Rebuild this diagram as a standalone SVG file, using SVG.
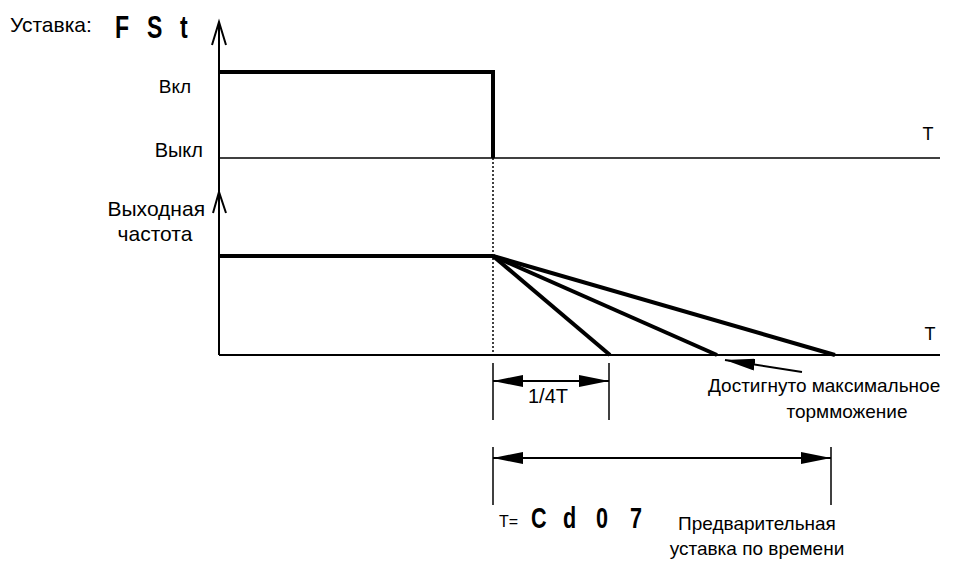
<svg xmlns="http://www.w3.org/2000/svg" width="977" height="562" viewBox="0 0 977 562">
<style>
text{font-family:"Liberation Sans",Arial,sans-serif;font-size:19px;fill:#000}
.big{font-size:21px}
.seg{font-family:"Liberation Sans",Arial,sans-serif;font-weight:bold;font-size:32px}
.thin{stroke:#000;stroke-width:1.5;fill:none}
.ax{stroke:#000;stroke-width:2;fill:none}
.thick{stroke:#000;stroke-width:4;fill:none}
.dim{stroke:#000;stroke-width:2;fill:none;marker-start:url(#ah);marker-end:url(#ah)}
</style>
<defs>
<marker id="ah" markerUnits="userSpaceOnUse" markerWidth="30" markerHeight="12" refX="30" refY="6" orient="auto-start-reverse" viewBox="0 0 30 12">
<path d="M0,0 L30,6 L0,12 z" fill="#000"/>
</marker>
</defs>
<rect width="977" height="562" fill="#fff"/>
<g id="axes">
<line class="ax" x1="219" y1="22" x2="219" y2="355"/>
<polyline class="ax" points="212,45 219,22 226,45"/>
<polyline class="ax" points="213,213 219,192 226,213"/>
<line class="thin" x1="219" y1="158" x2="940" y2="158"/>
<line class="ax" x1="219" y1="355" x2="940" y2="355"/>
<line x1="493" y1="158" x2="493" y2="355" stroke="#000" stroke-width="1.5" stroke-dasharray="2,2"/>
</g>
<g id="signal">
<path class="thick" d="M219,72 H493 V158"/>
</g>
<g id="frequency">
<path class="thick" d="M219,256 H493"/>
<line class="thick" x1="493" y1="256" x2="610" y2="355"/>
<line class="thick" x1="493" y1="256" x2="717" y2="355"/>
<line class="thick" x1="493" y1="256" x2="835" y2="355"/>
</g>
<g id="labels">
<text class="big" x="10" y="32">Уставка:</text>
<text class="seg" transform="translate(115,38) scale(0.72,1)" x="0">F</text>
<text class="seg" transform="translate(147,38) scale(0.72,1)" x="0">S</text>
<text class="seg" transform="translate(180,38) scale(0.72,1)" x="0">t</text>
<text x="191" y="93" text-anchor="end">Вкл</text>
<text x="203" y="157" text-anchor="end" style="font-size:20px">Выкл</text>
<text class="big" x="205" y="216" text-anchor="end">Выходная</text>
<text class="big" x="155" y="241" text-anchor="middle">частота</text>
<text x="928" y="140" text-anchor="middle" style="font-size:18px">T</text>
<text x="930" y="340" text-anchor="middle" style="font-size:18px">T</text>
</g>
<g id="connectors">
<line class="thin" x1="493" y1="363" x2="493" y2="420"/>
<line class="thin" x1="609" y1="363" x2="609" y2="420"/>
<line class="dim" x1="493" y1="381" x2="609" y2="381"/>
<line class="thin" x1="493" y1="447" x2="493" y2="505"/>
<line class="thin" x1="831" y1="447" x2="831" y2="505"/>
<line class="dim" x1="493" y1="458" x2="831" y2="458"/>
<line x1="802" y1="372" x2="725" y2="360" stroke="#000" stroke-width="2" marker-end="url(#ah)"/>
</g>
<g id="dim-labels">
<text x="548" y="403" text-anchor="middle" style="font-size:20px">1/4T</text>
<text x="708" y="392">Достигнуто максимальное</text>
<text x="847" y="418" text-anchor="middle">тормможение</text>
<text x="499" y="527" style="font-size:16px">T=</text>
<text class="seg" transform="translate(531,528) scale(0.72,1)" style="font-size:30px">C</text>
<text class="seg" transform="translate(563,528) scale(0.72,1)" style="font-size:30px">d</text>
<text class="seg" transform="translate(596,528) scale(0.72,1)" style="font-size:30px">0</text>
<text class="seg" transform="translate(630,528) scale(0.72,1)" style="font-size:30px">7</text>
<text x="757" y="530" text-anchor="middle">Предварительная</text>
<text x="757" y="555" text-anchor="middle">уставка по времени</text>
</g>
</svg>
